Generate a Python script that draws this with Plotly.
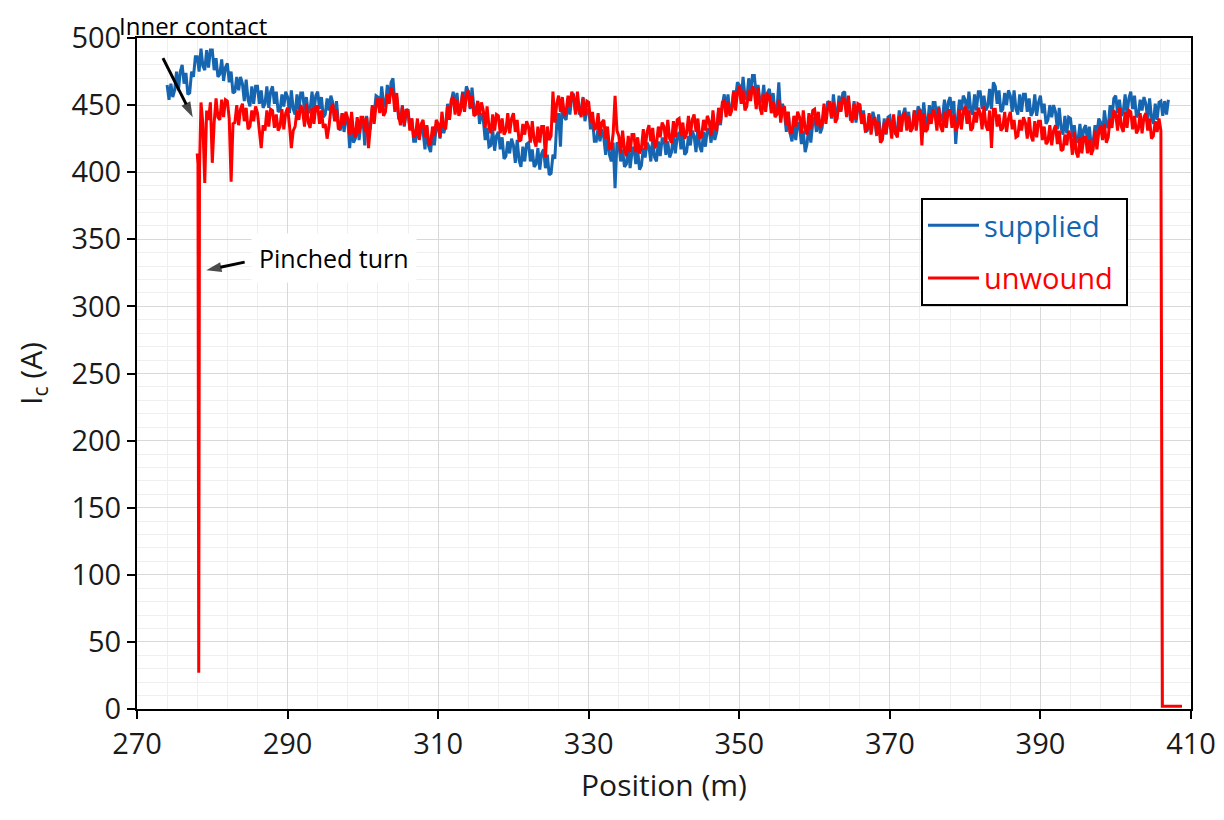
import numpy as np
import plotly.graph_objects as go

# ---------------- data ----------------
# supplied tape: samples every 0.25 m from 274.0 m to 407.0 m
supplied_start, supplied_end = 274.0, 407.0
supplied_ic = [
    465, 454, 466, 456, 461, 475, 461, 475, 480, 466, 474, 458, 459, 475, 471, 486,
    486, 475, 492, 479, 476, 491, 478, 491, 491, 476, 485, 471, 473, 484, 468, 478,
    481, 467, 475, 459, 460, 471, 461, 471, 466, 453, 469, 454, 449, 464, 451, 464,
    464, 451, 461, 448, 451, 464, 448, 460, 464, 451, 460, 445, 446, 458, 449, 460,
    456, 444, 461, 447, 443, 458, 446, 459, 459, 446, 456, 444, 447, 460, 445, 457,
    460, 447, 456, 441, 443, 455, 446, 457, 452, 438, 453, 437, 431, 444, 430, 441,
    439, 418, 435, 422, 425, 438, 424, 436, 441, 420, 442, 429, 433, 448, 443, 457,
    456, 445, 464, 451, 449, 465, 453, 467, 470, 451, 456, 440, 439, 450, 434, 444,
    447, 432, 440, 423, 423, 434, 425, 435, 430, 417, 434, 419, 415, 431, 420, 434,
    435, 425, 438, 429, 435, 451, 439, 453, 460, 448, 459, 445, 448, 460, 452, 464,
    460, 447, 463, 448, 443, 453, 436, 444, 439, 424, 433, 419, 420, 432, 416, 427,
    430, 417, 426, 410, 412, 423, 414, 425, 420, 407, 424, 409, 404, 419, 408, 421,
    422, 408, 417, 404, 406, 418, 402, 414, 417, 403, 413, 398, 399, 413, 410, 436,
    444, 419, 453, 441, 439, 455, 443, 456, 457, 445, 455, 443, 447, 456, 438, 446,
    447, 432, 440, 423, 423, 433, 423, 432, 426, 413, 429, 413, 408, 422, 388, 422,
    421, 408, 417, 404, 406, 419, 403, 415, 419, 406, 417, 402, 405, 418, 411, 422,
    419, 408, 425, 411, 408, 423, 412, 425, 425, 413, 423, 411, 415, 428, 414, 426,
    430, 417, 428, 413, 415, 427, 420, 431, 427, 415, 433, 419, 415, 430, 419, 432,
    432, 422, 434, 424, 430, 446, 435, 450, 458, 446, 458, 444, 448, 461, 455, 467,
    465, 454, 471, 457, 454, 470, 458, 472, 472, 457, 465, 452, 453, 465, 448, 459,
    462, 449, 459, 444, 446, 467, 443, 451, 444, 430, 445, 429, 423, 437, 424, 437,
    435, 421, 431, 415, 421, 436, 422, 436, 441, 430, 442, 429, 433, 447, 441, 453,
    451, 440, 458, 445, 442, 457, 446, 459, 460, 445, 454, 440, 441, 453, 437, 448,
    451, 437, 446, 430, 431, 442, 434, 445, 439, 427, 443, 429, 425, 440, 428, 441,
    442, 430, 440, 428, 432, 446, 431, 443, 448, 435, 445, 431, 433, 446, 438, 449,
    446, 435, 452, 438, 435, 450, 438, 452, 452, 439, 449, 438, 441, 454, 439, 452,
    456, 443, 453, 421, 441, 454, 446, 457, 454, 443, 460, 446, 443, 458, 446, 460,
    460, 447, 457, 446, 449, 462, 447, 467, 464, 451, 461, 445, 447, 459, 450, 461,
    457, 445, 461, 447, 443, 458, 445, 458, 458, 445, 455, 442, 445, 458, 442, 452,
    457, 444, 451, 436, 439, 450, 441, 450, 445, 432, 448, 433, 428, 442, 429, 441,
    440, 426, 435, 422, 424, 436, 421, 432, 435, 423, 434, 419, 422, 435, 428, 440,
    437, 427, 446, 435, 433, 450, 440, 455, 457, 444, 454, 442, 445, 458, 443, 455,
    460, 447, 457, 441, 443, 454, 446, 456, 451, 439, 455, 441, 436, 451, 439, 452,
    453, 442, 453, 443, 454,
]

# unwound tape: lead-in at the pinched turn, body every 0.25 m, tail after the end
unwound_lead_pos = [278.0, 278.1, 278.2, 278.3]
unwound_lead_ic = [414, 406, 27, 402]
unwound_body_start, unwound_body_end = 278.5, 406.0
unwound_body_ic = [
    452, 436,
    392, 446, 439, 452, 407, 437, 455, 441, 439, 454, 441, 454, 453, 440, 393, 436,
    437, 450, 435, 447, 451, 438, 448, 432, 434, 446, 438, 449, 444, 432, 418, 435,
    431, 446, 434, 447, 446, 433, 443, 431, 434, 447, 432, 444, 448, 435, 418, 431,
    434, 446, 439, 450, 446, 434, 451, 437, 433, 448, 436, 449, 449, 436, 446, 433,
    436, 425, 434, 447, 451, 438, 447, 432, 433, 444, 435, 445, 440, 428, 445, 430,
    426, 441, 429, 441, 441, 430, 441, 418, 435, 450, 436, 450, 455, 444, 455, 442,
    445, 458, 451, 463, 460, 445, 459, 442, 435, 449, 435, 447, 445, 431, 440, 426,
    428, 440, 424, 436, 439, 426, 435, 420, 421, 434, 427, 439, 436, 426, 445, 434,
    432, 449, 439, 454, 456, 443, 454, 442, 446, 459, 445, 457, 461, 448, 457, 442,
    443, 453, 443, 452, 446, 433, 449, 434, 429, 443, 431, 443, 442, 429, 440, 428,
    431, 444, 429, 440, 444, 430, 439, 423, 424, 436, 428, 438, 434, 422, 438, 424,
    419, 434, 422, 434, 434, 411, 434, 424, 427, 460, 437, 451, 457, 445, 456, 442,
    445, 457, 449, 460, 456, 443, 460, 446, 441, 455, 442, 453, 452, 437, 445, 432,
    433, 444, 427, 437, 439, 425, 434, 417, 418, 429, 457, 431, 427, 414, 431, 417,
    412, 427, 415, 428, 428, 415, 426, 414, 418, 432, 417, 430, 435, 423, 433, 418,
    421, 434, 426, 437, 434, 422, 439, 425, 422, 438, 426, 439, 440, 427, 437, 425,
    429, 442, 427, 439, 443, 430, 440, 425, 427, 439, 431, 442, 438, 427, 446, 433,
    431, 448, 437, 452, 453, 441, 453, 442, 446, 460, 446, 459, 464, 451, 461, 446,
    449, 461, 453, 464, 460, 447, 463, 448, 443, 458, 445, 458, 457, 444, 453, 441,
    443, 454, 437, 447, 449, 435, 445, 429, 430, 442, 434, 445, 441, 429, 446, 432,
    428, 444, 432, 446, 447, 435, 445, 433, 437, 451, 436, 448, 453, 441, 452, 437,
    440, 453, 445, 456, 453, 441, 457, 442, 437, 451, 439, 451, 450, 436, 444, 431,
    432, 444, 428, 438, 441, 428, 438, 422, 424, 437, 429, 440, 437, 425, 443, 429,
    426, 442, 430, 443, 444, 431, 442, 430, 433, 446, 431, 443, 447, 420, 444, 430,
    432, 444, 436, 447, 443, 431, 448, 434, 430, 445, 433, 446, 446, 433, 443, 431,
    434, 447, 432, 445, 449, 436, 446, 431, 433, 445, 437, 448, 444, 432, 449, 435,
    431, 446, 418, 447, 447, 434, 443, 431, 433, 445, 430, 440, 445, 432, 439, 426,
    427, 439, 431, 441, 437, 425, 441, 427, 423, 438, 426, 438, 438, 424, 434, 421,
    423, 435, 420, 431, 435, 421, 431, 416, 417, 428, 420, 431, 426, 413, 430, 415,
    411, 426, 414, 426, 426, 414, 424, 413, 417, 431, 417, 430, 435, 424, 436, 422,
    426, 440, 433, 446, 443, 431, 448, 434, 430, 445, 433, 446, 445, 432, 442, 429,
    432, 444, 429, 441, 444, 431, 440, 425, 427, 438, 430, 440,
    431,
]
unwound_tail_pos = [406.1, 406.2, 408.8]
unwound_tail_ic = [200, 2, 2]

# annotation arrows (tail -> head), in axis units
inner_arrow_pos = [273.45, 277.4]
inner_arrow_ic = [485, 441]
pinched_arrow_pos = [284.3, 279.2]
pinched_arrow_ic = [333, 327]

x_ticks = [270, 290, 310, 330, 350, 370, 390, 410]
y_ticks = [0, 50, 100, 150, 200, 250, 300, 350, 400, 450, 500]

BLUE = "#1565b0"
RED = "#ff0000"
FONT = "Open Sans"
TXT = "#1a1a1a"

# the page adds an 8 px body margin; plot area in screenshot: x 137..1191, y 38..709
OFF = 8
W, H = 1224 - OFF, 820 - OFF
PL, PR, PT, PB = 137, 1191, 38, 709


def px_x(px):
    return (px - PL) / (PR - PL)


def px_y(py):
    return (PB - py) / (PB - PT)


supplied_pos = np.linspace(supplied_start, supplied_end, len(supplied_ic))
unwound_pos = np.concatenate([
    unwound_lead_pos,
    np.linspace(unwound_body_start, unwound_body_end, len(unwound_body_ic)),
    unwound_tail_pos,
])
unwound_ic = list(unwound_lead_ic) + list(unwound_body_ic) + list(unwound_tail_ic)

fig = go.Figure()
fig.add_trace(go.Scatter(
    x=supplied_pos, y=supplied_ic, mode="lines",
    name=f"<span style='color:{BLUE}'>supplied</span>",
    legendgroup="a",
    line=dict(color=BLUE, width=3),
))
fig.add_trace(go.Scatter(
    x=unwound_pos, y=unwound_ic, mode="lines",
    name=f"<span style='color:{RED}'>unwound&nbsp;</span>",
    legendgroup="b",
    line=dict(color=RED, width=3),
))

for ax_x, ax_y in [(inner_arrow_pos, inner_arrow_ic), (pinched_arrow_pos, pinched_arrow_ic)]:
    fig.add_trace(go.Scatter(
        x=ax_x, y=ax_y, mode="lines+markers", showlegend=False, hoverinfo="skip",
        line=dict(color="black", width=3),
        marker=dict(symbol=["circle", "arrow"], size=[0, 16], color="black",
                    angleref="previous", line=dict(width=0)),
    ))

axis_common = dict(
    showline=True, linecolor="black", linewidth=2, mirror=True,
    ticks="outside", ticklen=8, tickwidth=2, tickcolor="black",
    gridcolor="#d9d9d9", gridwidth=1, zeroline=False, automargin=False,
    tickfont=dict(family=FONT, size=29, color=TXT),
)

fig.update_xaxes(
    range=[270, 410], tickvals=x_ticks,
    minor=dict(dtick=4, tick0=270, showgrid=True, gridcolor="#efefef", gridwidth=1, ticks=""),
    title=dict(text="Position (m)", font=dict(family=FONT, size=30, color=TXT), standoff=14),
    **axis_common,
)
fig.update_yaxes(
    range=[0, 500], tickvals=y_ticks,
    minor=dict(dtick=10, tick0=0, showgrid=True, gridcolor="#efefef", gridwidth=1, ticks=""),
    title=dict(text="I<sub>c</sub> (A)", font=dict(family=FONT, size=30, color=TXT), standoff=20),
    **axis_common,
)

# white patch over the grid (as in the reference)
fig.add_shape(type="rect", xref="paper", yref="paper",
              x0=px_x(935), x1=px_x(1125), y0=px_y(380), y1=px_y(342),
              fillcolor="white", line=dict(width=0), layer="between")

fig.add_annotation(x=px_x(193), y=px_y(25), xref="paper", yref="paper",
                   xanchor="center", yanchor="middle",
                   text="Inner contact", showarrow=False,
                   font=dict(family=FONT, size=24, color="black"))
fig.add_annotation(x=px_x(334), y=px_y(258), xref="paper", yref="paper",
                   xanchor="center", yanchor="middle",
                   text="Pinched turn", showarrow=False, bgcolor="white", borderpad=7,
                   font=dict(family=FONT, size=25, color="black"))

fig.update_layout(
    width=W, height=H,
    margin=dict(l=PL - OFF, r=W - (PR - OFF), t=PT - OFF, b=H - (PB - OFF), autoexpand=False),
    paper_bgcolor="white", plot_bgcolor="white",
    font=dict(family=FONT, color=TXT),
    legend=dict(
        x=px_x(921), y=px_y(198), xanchor="left", yanchor="top",
        bgcolor="white", bordercolor="black", borderwidth=2,
        font=dict(family=FONT, size=29), itemwidth=51,
        traceorder="grouped", tracegroupgap=12,
    ),
)

fig.write_html("out.html")
